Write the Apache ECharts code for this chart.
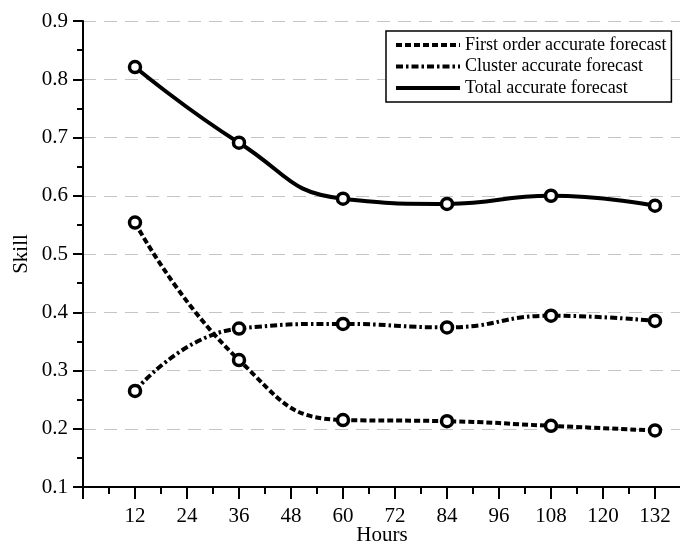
<!DOCTYPE html>
<html>
<head>
<meta charset="utf-8">
<script src="https://cdn.jsdelivr.net/npm/echarts@6/dist/echarts.min.js"></script>
<style>
  html, body { margin: 0; padding: 0; background: #fff; }
  #chart { width: 680px; height: 547px; }
</style>
</head>
<body>
<div id="chart"></div>
<script>
// Forecast lead times (hours)
const hours = [12, 36, 60, 84, 108, 132];

// Skill scores per forecast type
const firstOrder = [0.554, 0.318, 0.215, 0.213, 0.205, 0.197];
const cluster    = [0.265, 0.372, 0.380, 0.374, 0.394, 0.385];
const total      = [0.821, 0.691, 0.595, 0.586, 0.600, 0.583];

const seriesNames = [
  'First order accurate forecast',
  'Cluster accurate forecast',
  'Total accurate forecast'
];

const FONT = '"Liberation Serif", "DejaVu Serif", serif';

function pairs(values) {
  return hours.map((h, i) => [h, values[i]]);
}

function lineSeries(name, values, dash) {
  return {
    name: name,
    type: 'line',
    data: pairs(values),
    smooth: 0.5,
    symbol: 'circle',
    symbolSize: 11,
    showAllSymbol: true,
    itemStyle: { color: '#fff', borderColor: '#000', borderWidth: 3.5 },
    lineStyle: { color: '#000', width: 4, type: dash },
    emphasis: { disabled: true },
    z: 3
  };
}

const chart = echarts.init(document.getElementById('chart'), null, { renderer: 'canvas' });

chart.setOption({
  animation: false,
  backgroundColor: '#fff',
  grid: {
    left: 83, right: -1, top: 21, bottom: 60,
    containLabel: false,
    outerBoundsMode: 'none'
  },
  legend: {
    orient: 'vertical',
    left: 386,
    top: 31,
    padding: [5, 5, 5, 8],
    itemGap: 3.5,
    itemWidth: 64,
    itemHeight: 18,
    backgroundColor: '#fff',
    borderColor: '#000',
    borderWidth: 1.5,
    itemStyle: { opacity: 0 },
    lineStyle: { width: 4 },
    textStyle: { fontFamily: FONT, fontSize: 18, color: '#000' },
    data: seriesNames
  },
  xAxis: {
    type: 'value',
    min: 0,
    max: 138,
    interval: 12,
    name: 'Hours',
    nameLocation: 'middle',
    nameGap: 38,
    nameMoveOverlap: false,
    nameTextStyle: { fontFamily: FONT, fontSize: 21, color: '#000' },
    axisLine: { onZero: false, lineStyle: { color: '#000', width: 2 } },
    axisTick: { length: 12, lineStyle: { color: '#000', width: 2 } },
    minorTick: { show: true, splitNumber: 2, length: 7, lineStyle: { color: '#000', width: 2 } },
    axisLabel: {
      fontFamily: FONT, fontSize: 21, color: '#000', margin: 19,
      formatter: v => (v > 0 && v % 12 === 0) ? String(v) : ''
    },
    splitLine: { show: false }
  },
  yAxis: {
    type: 'value',
    min: 0.1,
    max: 0.9,
    interval: 0.1,
    name: 'Skill',
    nameLocation: 'middle',
    nameGap: 51,
    nameMoveOverlap: false,
    nameTextStyle: { fontFamily: FONT, fontSize: 21, color: '#000' },
    axisLine: { show: true, lineStyle: { color: '#000', width: 2 } },
    axisTick: { show: true, length: 10, lineStyle: { color: '#000', width: 2 } },
    minorTick: { show: true, splitNumber: 2, length: 6, lineStyle: { color: '#000', width: 2 } },
    axisLabel: {
      fontFamily: FONT, fontSize: 21, color: '#000', margin: 15,
      formatter: v => v.toFixed(1)
    },
    splitLine: {
      show: true,
      lineStyle: { color: '#c4c4c4', width: 1, type: [13, 8] }
    }
  },
  series: [
    lineSeries(seriesNames[0], firstOrder, [6, 3]),
    lineSeries(seriesNames[1], cluster, [7, 3, 2.5, 3]),
    lineSeries(seriesNames[2], total, 'solid')
  ]
});
</script>
</body>
</html>
